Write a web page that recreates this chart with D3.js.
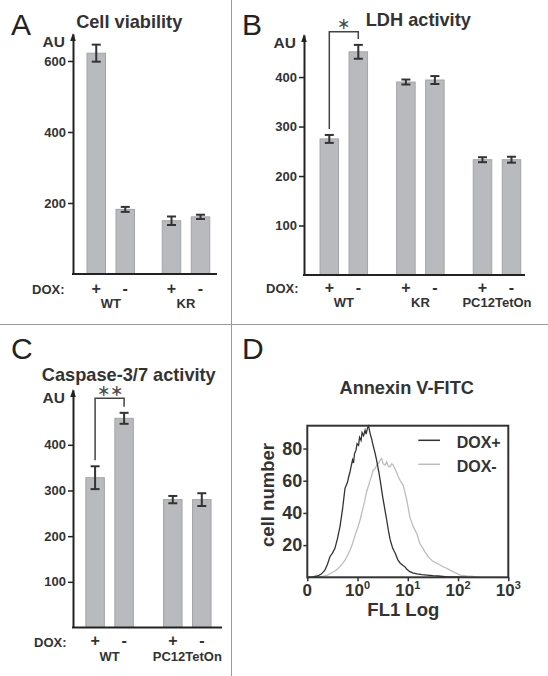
<!DOCTYPE html>
<html>
<head>
<meta charset="utf-8">
<script src="https://cdn.jsdelivr.net/npm/d3@7"></script>
<style>
  html, body { margin: 0; padding: 0; background: #fff; }
  svg { display: block; }
  text { font-family: "Liberation Sans", Arial, Helvetica, sans-serif; }
</style>
</head>
<body>
<svg id="fig" width="548" height="676"></svg>
<script>
// ---------------- DATA ----------------
const doxLevels = ["+", "-"];

// Panel A: Cell viability
const viabilityGroups = ["WT", "KR"];
const viabilityMean = [622, 182, 150, 161];
const viabilityErr = [24, 7, 12, 6];
const viabilityTicks = [200, 400, 600];

// Panel B: LDH activity
const ldhGroups = ["WT", "KR", "PC12TetOn"];
const ldhMean = [275, 451, 390, 394, 233, 233];
const ldhErr = [8, 14, 5, 8, 5, 6];
const ldhTicks = [100, 200, 300, 400];

// Panel C: Caspase-3/7 activity
const caspaseGroups = ["WT", "PC12TetOn"];
const caspaseMean = [328, 458, 280, 280];
const caspaseErr = [25, 12, 8, 14];
const caspaseTicks = [100, 200, 300, 400];

// Panel D: Annexin V-FITC histogram (x = log10 FL1, y = cell number)
const doxPlusLog = [-1.0,-0.9,-0.8,-0.72,-0.65,-0.6,-0.55,-0.5,-0.45,-0.4,-0.35,-0.3,-0.27,-0.25,-0.2,-0.18,-0.15,-0.12,-0.1,-0.08,-0.06,-0.03,-0.01,0.02,0.04,0.07,0.09,0.12,0.15,0.17,0.2,0.22,0.25,0.28,0.31,0.35,0.38,0.42,0.45,0.5,0.55,0.58,0.62,0.65,0.7,0.75,0.8,0.85,0.9,0.94,0.98,1.04,1.1,1.18,1.28,1.38,1.5,1.6,1.8,2.0,2.2];
const doxPlusCount = [0,0.3,0.8,2,4.5,8,12.8,15,18,24,31.5,42,50,55.3,59,62,65.6,70,73,71,77,79,83,82,87,85,90,88,91.4,89,93,94,89.3,86,82,77,72.7,66,60.4,50,41,35.6,28,23.2,18,14.9,11,8.7,7.5,6.6,5,3.5,2.8,2.1,1.6,1.4,1.0,0.8,0.3,0.2,0];
const doxMinusLog = [-1.0,-0.8,-0.7,-0.6,-0.5,-0.42,-0.35,-0.3,-0.25,-0.2,-0.15,-0.1,-0.05,0.0,0.05,0.1,0.14,0.18,0.22,0.25,0.28,0.31,0.35,0.38,0.42,0.45,0.48,0.51,0.55,0.58,0.61,0.65,0.68,0.71,0.75,0.78,0.82,0.85,0.88,0.91,0.95,0.98,1.01,1.04,1.08,1.11,1.15,1.18,1.24,1.3,1.34,1.4,1.44,1.5,1.58,1.65,1.71,1.78,1.84,1.9,1.94,2.0,2.04,2.17,2.3,2.44];
const doxMinusCount = [0,0.2,0.6,1.4,3,4.5,6.6,8.5,10.7,13.5,16.8,21,26,30.5,35.6,42,47,53.2,57,60.4,63,66.6,67.5,69.7,71,72.8,73.8,70.5,69.7,71.8,69,68.7,70.5,69.7,67,65,62,60,58.5,57,52,48,43,37.5,34,31.3,29,27.1,21,18,15.8,13,11.6,10,8.7,7.5,6.4,5.5,4.5,3.5,2.9,2,1.4,0.8,0.5,0];
const histXTicks = [0.1, 1, 10, 100, 1000];
const histYTicks = [20, 40, 60, 80];

// ---------------- DRAWING ----------------
const svg = d3.select("#fig");
const FONT = '"Liberation Sans", Arial, Helvetica, sans-serif';
const TXT = "#333";

// panel dividers
svg.append("line").attr("x1", 231.5).attr("x2", 231.5).attr("y1", 0).attr("y2", 676)
  .attr("stroke", "#9a9a9a").attr("stroke-width", 1);
svg.append("line").attr("x1", 0).attr("x2", 548).attr("y1", 324.5).attr("y2", 324.5)
  .attr("stroke", "#9a9a9a").attr("stroke-width", 1);

// panel letters
[["A", 11, 35], ["B", 242, 35], ["C", 11, 359], ["D", 242, 359]].forEach(([t, x, y]) => {
  svg.append("text").attr("x", x).attr("y", y).text(t)
    .attr("font-size", 30).attr("fill", "#222");
});

const inner = d3.scaleBand().domain(doxLevels).range([-23.75, 23.75]).paddingInner(0.362);

function barPanel(cfg) {
  const g = svg.append("g");
  const y = d3.scaleLinear().domain(cfg.yDomain).range([cfg.y0, cfg.yTop]);
  const gx = d3.scalePoint().domain(cfg.groups).range(cfg.groupRange);
  const data = [];
  cfg.groups.forEach((grp, gi) => {
    doxLevels.forEach((d, di) => {
      const k = gi * 2 + di;
      data.push({ grp, dox: d, mean: cfg.mean[k], err: cfg.err[k] });
    });
  });
  const cx = d => gx(d.grp) + inner(d.dox) + inner.bandwidth() / 2;

  // bars
  g.selectAll("rect.bar").data(data).join("rect")
    .attr("x", d => gx(d.grp) + inner(d.dox))
    .attr("width", inner.bandwidth())
    .attr("y", d => y(d.mean))
    .attr("height", d => y(0) - y(d.mean))
    .attr("fill", "#b9babd").attr("stroke", "#a3a4a7").attr("stroke-width", 1);

  // error bars
  const eb = g.selectAll("g.err").data(data).join("g").attr("stroke", "#333").attr("stroke-width", 2);
  eb.append("line").attr("x1", cx).attr("x2", cx)
    .attr("y1", d => y(d.mean + d.err)).attr("y2", d => y(d.mean - d.err));
  eb.append("line").attr("x1", d => cx(d) - 4.5).attr("x2", d => cx(d) + 4.5)
    .attr("y1", d => y(d.mean + d.err)).attr("y2", d => y(d.mean + d.err));
  eb.append("line").attr("x1", d => cx(d) - 4.5).attr("x2", d => cx(d) + 4.5)
    .attr("y1", d => y(d.mean - d.err)).attr("y2", d => y(d.mean - d.err));

  // y axis
  const ax = g.append("g").attr("transform", `translate(${cfg.axisX},0)`)
    .call(d3.axisLeft(y).tickValues(cfg.ticks).tickSize(5).tickSizeOuter(0).tickPadding(2));
  ax.select(".domain").attr("stroke", "#222").attr("stroke-width", 2);
  ax.selectAll(".tick line").attr("stroke", "#222").attr("stroke-width", 1.5);
  ax.selectAll(".tick text").attr("font-family", FONT).attr("font-size", 13)
    .attr("font-weight", "bold").attr("fill", TXT);
  // arrow head
  g.append("path")
    .attr("d", `M${cfg.axisX},${cfg.yTop - 1} L${cfg.axisX - 2.8},${cfg.yTop + 7} L${cfg.axisX + 2.8},${cfg.yTop + 7} Z`)
    .attr("fill", "#222");
  // x axis
  g.append("line").attr("x1", cfg.axisX - 1).attr("x2", cfg.xEnd)
    .attr("y1", y(0)).attr("y2", y(0)).attr("stroke", "#222").attr("stroke-width", 2);

  // AU
  g.append("text").attr("x", cfg.axisX - 8).attr("y", cfg.yTop + 12.5).attr("text-anchor", "end")
    .attr("font-size", 15.5).attr("font-weight", "bold").attr("fill", TXT).text("AU");

  // title
  g.append("text").attr("x", cfg.titleX).attr("y", cfg.titleY).attr("text-anchor", "middle")
    .attr("font-size", 18.2).attr("font-weight", "bold").attr("fill", TXT).text(cfg.title);

  // DOX labels
  g.append("text").attr("x", cfg.doxX).attr("y", cfg.doxY).attr("text-anchor", "end")
    .attr("font-size", 13).attr("font-weight", "bold").attr("fill", TXT).text("DOX:");
  g.selectAll("text.pm").data(data).join("text")
    .attr("x", cx).attr("y", cfg.doxY - 0.5).attr("text-anchor", "middle")
    .attr("font-size", 16).attr("font-weight", "bold").attr("fill", TXT).text(d => d.dox);
  g.selectAll("text.grp").data(cfg.groups).join("text")
    .attr("x", d => gx(d)).attr("y", cfg.doxY + 14).attr("text-anchor", "middle")
    .attr("font-size", 13).attr("font-weight", "bold").attr("fill", TXT).text(d => d);

  // significance bracket
  if (cfg.sig) {
    const a = data[0], b = data[1];
    const topY = cfg.sig.topY;
    g.append("path")
      .attr("d", `M${cx(a)},${y(a.mean + a.err) - 6} V${topY} H${cx(b)} V${y(b.mean + b.err) - 6}`)
      .attr("fill", "none").attr("stroke", "#444").attr("stroke-width", 1.5);
    g.append("text").attr("x", (cx(a) + cx(b)) / 2).attr("y", topY - 2.5)
      .attr("text-anchor", "middle").attr("font-family", '"DejaVu Sans", sans-serif')
      .attr("font-size", 15.5).attr("fill", "#4a4a4a").text(cfg.sig.label);
  }
}

barPanel({
  groups: viabilityGroups, mean: viabilityMean, err: viabilityErr, ticks: viabilityTicks,
  yDomain: [0, 676], y0: 274, yTop: 34, groupRange: [110.75, 186], axisX: 73, xEnd: 217,
  title: "Cell viability", titleX: 129.2, titleY: 27.5, doxX: 64.5, doxY: 294
});
barPanel({
  groups: ldhGroups, mean: ldhMean, err: ldhErr, ticks: ldhTicks,
  yDomain: [0, 485], y0: 275, yTop: 35, groupRange: [343.8, 497], axisX: 304, xEnd: 525,
  title: "LDH activity", titleX: 418.3, titleY: 26, doxX: 298.5, doxY: 293.3,
  sig: { topY: 31.7, label: "∗" }
});
barPanel({
  groups: caspaseGroups, mean: caspaseMean, err: caspaseErr, ticks: caspaseTicks,
  yDomain: [0, 520], y0: 627.5, yTop: 390, groupRange: [109.6, 187.3], axisX: 73, xEnd: 222,
  title: "Caspase-3/7 activity", titleX: 128.8, titleY: 381, doxX: 66.5, doxY: 646.5,
  sig: { topY: 398.3, label: "∗∗" }
});

// ---------------- Panel D ----------------
(function () {
  const g = svg.append("g");
  const L = 307.3, R = 508.3, T = 425.7, B = 577.3;
  const x = d3.scaleLog().domain([0.1, 1000]).range([L, R]);
  const y = d3.scaleLinear().domain([0, 94.2]).range([B, T]);

  g.append("text").attr("x", 406.7).attr("y", 394).attr("text-anchor", "middle")
    .attr("font-size", 18.2).attr("font-weight", "bold").attr("fill", TXT).text("Annexin V-FITC");

  const line = d3.line().x(d => x(Math.pow(10, d[0]))).y(d => y(d[1]));
  const minus = doxMinusLog.map((v, i) => [v, doxMinusCount[i]]);
  const plus = doxPlusLog.map((v, i) => [v, doxPlusCount[i]]);
  g.append("path").attr("d", line(minus)).attr("fill", "none")
    .attr("stroke", "#bdbdbd").attr("stroke-width", 1.3);
  g.append("path").attr("d", line(plus)).attr("fill", "none")
    .attr("stroke", "#333").attr("stroke-width", 1.3);

  g.append("rect").attr("x", L).attr("y", T).attr("width", R - L).attr("height", B - T)
    .attr("fill", "none").attr("stroke", "#333").attr("stroke-width", 2);

  // y axis
  const ay = g.append("g").attr("transform", `translate(${L},0)`)
    .call(d3.axisLeft(y).tickValues(histYTicks).tickSize(4).tickSizeOuter(0).tickPadding(1));
  ay.select(".domain").remove();
  ay.selectAll(".tick line").attr("stroke", "#333").attr("stroke-width", 1.5);
  ay.selectAll(".tick text").attr("font-family", FONT).attr("font-size", 18)
    .attr("font-weight", "bold").attr("fill", TXT);

  // x axis
  const axx = g.append("g").attr("transform", `translate(0,${B})`)
    .call(d3.axisBottom(x).tickValues(histXTicks).tickSize(4).tickSizeOuter(0).tickFormat(""));
  axx.select(".domain").remove();
  axx.selectAll(".tick line").attr("stroke", "#333").attr("stroke-width", 1.5);
  histXTicks.forEach(v => {
    const t = g.append("text").attr("x", x(v)).attr("y", B + 18.5).attr("text-anchor", "middle")
      .attr("font-size", 17).attr("font-weight", "bold").attr("fill", TXT);
    if (v === 0.1) t.text("0");
    else {
      t.append("tspan").text("10");
      t.append("tspan").attr("dy", -7).attr("font-size", 11).text(String(Math.round(Math.log10(v))));
    }
  });

  g.append("text").attr("x", 403.3).attr("y", 615.5).attr("text-anchor", "middle")
    .attr("font-size", 18.5).attr("font-weight", "bold").attr("fill", TXT).text("FL1 Log");
  g.append("text").attr("transform", "translate(274,495) rotate(-90)").attr("text-anchor", "middle")
    .attr("font-size", 18.5).attr("font-weight", "bold").attr("fill", TXT).text("cell number");

  // legend
  const legend = [["DOX+", "#333", 440.3, 447.5], ["DOX-", "#bdbdbd", 464.3, 471.5]];
  legend.forEach(([lab, col, ly, ty]) => {
    g.append("line").attr("x1", 418.3).attr("x2", 440).attr("y1", ly).attr("y2", ly)
      .attr("stroke", col).attr("stroke-width", 1.5);
    g.append("text").attr("x", 456.7).attr("y", ty).attr("font-size", 16)
      .attr("font-weight", "bold").attr("fill", TXT).text(lab);
  });
})();
</script>
</body>
</html>
